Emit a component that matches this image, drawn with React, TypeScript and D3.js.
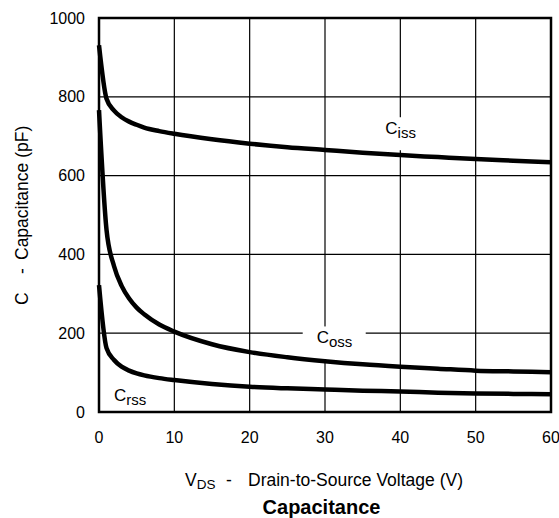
import React from 'react';
import * as d3 from 'd3';

const vds = [0, 1, 2, 3, 4, 5, 6, 8, 10, 15, 20, 25, 30, 35, 40, 45, 50, 55, 60];
const ciss = [931, 795, 765, 748, 737, 729, 722, 713, 706, 692, 681, 672, 665, 658, 652, 647, 642, 638, 634];
const coss = [766, 462, 370, 320, 288, 265, 248, 222, 204, 172, 152, 139, 129, 121, 115, 110, 105, 103, 101];
const crss = [322, 162, 132, 115, 105, 98, 93, 86, 81, 71, 64, 60, 57, 54, 52, 49, 47, 46, 45];
const xTicks = [0, 10, 20, 30, 40, 50, 60];
const yTicks = [0, 200, 400, 600, 800, 1000];
const curveLabels = [
  { main: 'C', sub: 'iss', v: 38, c: 705 },
  { main: 'C', sub: 'oss', v: 28.9, c: 174 },
  { main: 'C', sub: 'rss', v: 2.0, c: 29 },
];

const W = 559;
const H = 518;
const L = 99, R = 551, T = 18, B = 412;
const FONT = '"Liberation Sans", Arial, Helvetica, sans-serif';

export default function App() {
  const x = d3.scaleLinear().domain([0, 60]).range([L, R]);
  const y = d3.scaleLinear().domain([0, 1000]).range([B, T]);
  const line = d3
    .line<number>()
    .x((_, i) => x(vds[i]))
    .y((d) => y(d))
    .curve(d3.curveMonotoneX);
  const series = [ciss, coss, crss];

  return (
    <svg width={W} height={H} style={{ position: 'absolute', left: 0, top: 0, background: '#fff' }} fontFamily={FONT}>
      <rect x={0} y={0} width={W} height={H} fill="#fff" />
      {xTicks.slice(1, -1).map((t) => (
        <line key={'gx' + t} x1={x(t)} x2={x(t)} y1={T} y2={B} stroke="#000" strokeWidth={1.2} />
      ))}
      {yTicks.slice(1, -1).map((t) => (
        <line key={'gy' + t} x1={L} x2={R} y1={y(t)} y2={y(t)} stroke="#000" strokeWidth={1.2} />
      ))}
      {curveLabels.map((lb, i) => (
        <rect key={'bg' + i} x={x(lb.v) - 14} y={y(lb.c) - 17} width={63} height={33} fill="#fff" />
      ))}
      <rect x={L} y={T} width={R - L} height={B - T} fill="none" stroke="#000" strokeWidth={2.5} />
      {series.map((s, i) => (
        <path key={'s' + i} d={line(s) || ''} fill="none" stroke="#000" strokeWidth={4.5} strokeLinejoin="round" />
      ))}
      {curveLabels.map((lb, i) => (
        <text key={'lb' + i} x={x(lb.v)} y={y(lb.c)} fontSize={17}>
          {lb.main}
          <tspan fontSize={15} dy={4}>{lb.sub}</tspan>
        </text>
      ))}
      {xTicks.map((t) => (
        <text key={'xt' + t} x={x(t)} y={B + 30.5} fontSize={16} textAnchor="middle">
          {t}
        </text>
      ))}
      {yTicks.map((t) => (
        <text key={'yt' + t} x={L - 14} y={y(t) + 5.5} fontSize={16} textAnchor="end">
          {t}
        </text>
      ))}
      <text x={185} y={486} fontSize={17.5}>
        V<tspan fontSize={13.5} dy={2.5}>DS</tspan>
      </text>
      <text x={226} y={486} fontSize={17.5}>-</text>
      <text x={248} y={486} fontSize={17.5}>Drain-to-Source Voltage (V)</text>
      <text x={321.5} y={514} fontSize={20} fontWeight="bold" textAnchor="middle">Capacitance</text>
      <g transform="rotate(-90)">
        <text x={-305} y={28} fontSize={17.5}>C</text>
        <text x={-274} y={28} fontSize={17.5}>-</text>
        <text x={-260} y={28} fontSize={17.5}>Capacitance (pF)</text>
      </g>
    </svg>
  );
}
